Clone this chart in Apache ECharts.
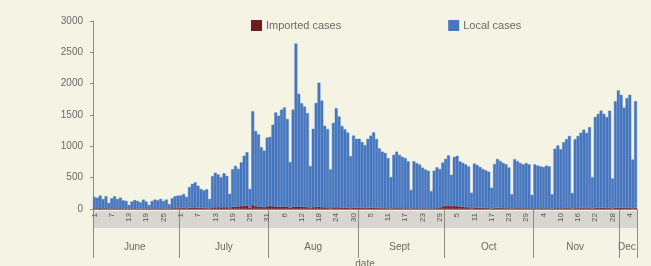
<!DOCTYPE html>
<html>
<head>
<meta charset="utf-8">
<script src="https://cdn.jsdelivr.net/npm/echarts@6/dist/echarts.min.js"></script>
<style>
	html, body { margin: 0; padding: 0; background: #f5f3e4; }
	#main { width: 651px; height: 266px; }
</style>
</head>
<body>
<div id="main"></div>
<script>
const months = ["June", "July", "Aug", "Sept", "Oct", "Nov", "Dec"];
const monthDays = [30, 31, 31, 30, 31, 30, 6];

// daily local cases, one array per month
const localJune = [180, 170, 200, 150, 190, 90, 160, 190, 150, 170, 130, 120, 60, 110, 130, 120, 100, 140, 110, 60, 120, 140, 130, 150, 120, 140, 70, 160, 190, 200];
const localJuly = [200, 220, 180, 330, 380, 400, 350, 300, 280, 300, 150, 500, 550, 520, 480, 540, 500, 230, 600, 650, 600, 700, 800, 850, 300, 1500, 1200, 1150, 950, 900, 1100];
const localAug = [1100, 1300, 1500, 1450, 1550, 1580, 1400, 730, 1550, 2600, 1800, 1650, 1600, 1500, 670, 1250, 1660, 1980, 1700, 1300, 1250, 620, 1350, 1580, 1450, 1300, 1250, 1200, 830, 1150, 1100];
const localSept = [1100, 1050, 1000, 1100, 1150, 1200, 1100, 950, 900, 880, 800, 500, 850, 900, 850, 820, 800, 750, 300, 750, 720, 700, 650, 620, 600, 280, 600, 650, 620, 700];
const localOct = [750, 800, 500, 780, 800, 720, 700, 680, 650, 250, 700, 680, 650, 620, 600, 580, 330, 700, 780, 750, 720, 700, 650, 230, 780, 750, 720, 700, 720, 700, 220];
const localNov = [700, 680, 670, 660, 680, 670, 230, 950, 1000, 940, 1050, 1100, 1150, 250, 1100, 1150, 1200, 1250, 1200, 1290, 500, 1450, 1500, 1550, 1500, 1450, 1550, 480, 1700, 1870];
const localDec = [1800, 1600, 1750, 1800, 780, 1700];

// daily imported cases
const importedJune = [12, 10, 15, 8, 14, 6, 10, 12, 9, 11, 8, 10, 5, 9, 12, 8, 7, 10, 9, 4, 8, 10, 9, 11, 8, 10, 5, 12, 14, 15];
const importedJuly = [15, 18, 12, 20, 22, 25, 20, 18, 16, 15, 10, 25, 28, 30, 26, 30, 28, 12, 35, 38, 40, 45, 50, 55, 20, 60, 45, 40, 35, 30, 40];
const importedAug = [50, 45, 40, 38, 35, 40, 36, 20, 35, 40, 38, 36, 34, 30, 15, 30, 32, 35, 30, 28, 26, 12, 25, 28, 26, 24, 22, 20, 12, 22, 20];
const importedSept = [20, 18, 16, 18, 20, 22, 18, 16, 15, 14, 12, 8, 14, 15, 14, 12, 12, 10, 5, 12, 12, 10, 10, 10, 10, 5, 12, 14, 16, 40];
const importedOct = [50, 55, 45, 50, 48, 40, 35, 30, 28, 10, 25, 22, 20, 18, 16, 15, 8, 16, 18, 16, 15, 14, 12, 6, 14, 14, 12, 12, 12, 12, 5];
const importedNov = [12, 12, 11, 10, 12, 10, 5, 12, 14, 12, 14, 15, 15, 6, 14, 15, 16, 16, 15, 16, 8, 18, 18, 20, 18, 16, 18, 8, 20, 22];
const importedDec = [20, 18, 20, 22, 10, 20];

const yTicks = [0, 500, 1000, 1500, 2000, 2500, 3000];

const local = [].concat(localJune, localJuly, localAug, localSept, localOct, localNov, localDec);
const imported = [].concat(importedJune, importedJuly, importedAug, importedSept, importedOct, importedNov, importedDec);

// day categories and month boundaries
const categories = [];
const monthStart = {};
const monthMid = {};
months.forEach((m, mi) => {
	monthStart[categories.length] = true;
	monthMid[categories.length + Math.floor((monthDays[mi] - 1) / 2)] = m;
	for (let d = 1; d <= monthDays[mi]; d++) categories.push(d + "-" + m);
});

const textColor = "#6a6a66";
const lineColor = "#8c8c88";
const localColor = "#4676c0";
const importedColor = "#6e1c1c";

const chart = echarts.init(document.getElementById("main"), null, { renderer: "canvas" });

const option = {
	backgroundColor: "#f5f3e4",
	animation: false,
	textStyle: { fontFamily: "Liberation Sans, Arial, sans-serif" },
	grid: { left: 93, right: 14, top: 21, bottom: 57, outerBoundsMode: "none", containLabel: false },
	legend: {
		left: 246,
		top: 15,
		itemWidth: 9,
		itemHeight: 9,
		itemGap: 107,
		icon: "rect",
		textStyle: { fontSize: 11, color: textColor },
		data: ["Imported cases", "Local cases"],
	},
	graphic: [
		{
			type: "rect",
			left: 93,
			top: 211,
			z: -1,
			shape: { width: 544, height: 17 },
			style: { fill: "#d9d6cf" },
		},
	],
	xAxis: [
		{
			type: "category",
			data: categories,
			axisLine: { lineStyle: { color: lineColor } },
			axisTick: { show: false },
			axisLabel: {
				interval: 5,
				rotate: 90,
				fontSize: 8,
				margin: 4,
				color: "#55554f",
				formatter: (v) => v.split("-")[0],
			},
		},
		{
			type: "category",
			data: categories,
			position: "bottom",
			axisLine: { show: false },
			axisTick: {
				show: true,
				interval: (idx) => !!monthStart[idx],
				length: 49,
				lineStyle: { color: lineColor },
			},
			axisLabel: {
				interval: (idx) => monthMid[idx] !== undefined,
				fontSize: 10,
				margin: 33,
				color: textColor,
				formatter: (v) => v.split("-")[1],
			},
			name: "date",
			nameLocation: "middle",
			nameGap: 50,
			nameTextStyle: { fontSize: 10, color: textColor },
		},
	],
	yAxis: {
		type: "value",
		min: yTicks[0],
		max: yTicks[yTicks.length - 1],
		interval: 500,
		splitLine: { show: false },
		axisLine: { show: true, lineStyle: { color: lineColor } },
		axisTick: { show: true, length: 3, lineStyle: { color: lineColor } },
		axisLabel: { fontSize: 10, color: textColor, margin: 10, formatter: (v) => String(v) },
	},
	series: [
		{
			name: "Imported cases",
			type: "bar",
			stack: "cases",
			data: imported,
			barCategoryGap: "0%",
			itemStyle: { color: importedColor, borderColor: importedColor, borderWidth: 0.4 },
		},
		{
			name: "Local cases",
			type: "bar",
			stack: "cases",
			data: local,
			barCategoryGap: "0%",
			itemStyle: { color: localColor, borderColor: localColor, borderWidth: 0.4 },
		},
	],
};

chart.setOption(option);
</script>
</body>
</html>
